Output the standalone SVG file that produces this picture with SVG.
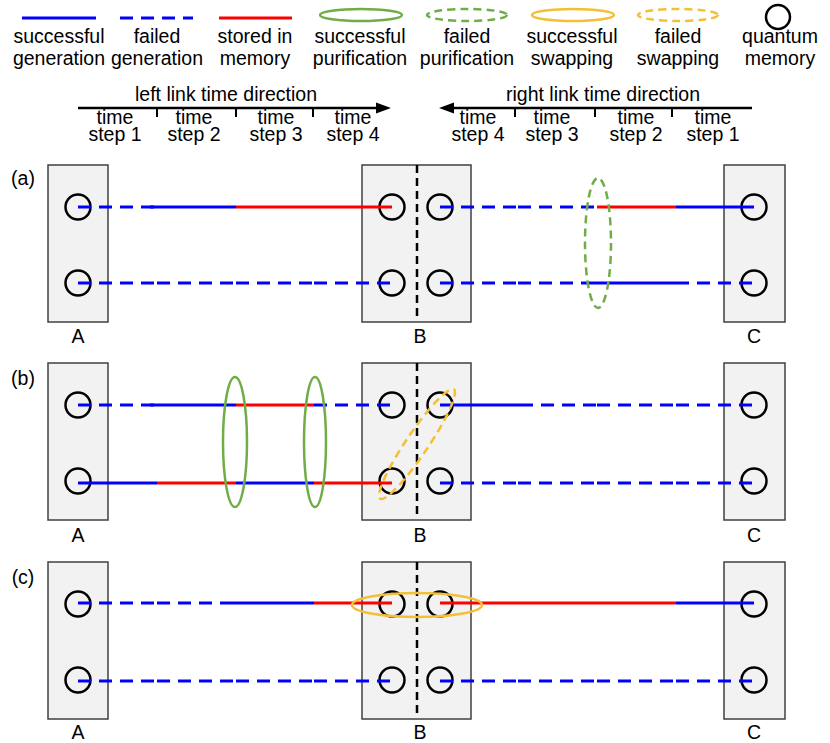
<svg xmlns="http://www.w3.org/2000/svg" width="830" height="743" viewBox="0 0 830 743">
<defs>
<style>
text{font-family:"Liberation Sans",Arial,sans-serif;font-size:19.5px;fill:#000;text-anchor:middle}
.box{fill:#F2F2F2;stroke:#404040;stroke-width:1.5}
.mem{fill:none;stroke:#000;stroke-width:2.5}
.div{stroke:#000;stroke-width:2.5;stroke-dasharray:8 5}
.s{stroke:#0000FF;stroke-width:3}
.d{stroke:#0000FF;stroke-width:3;stroke-dasharray:13 8}
.r{stroke:#FF0000;stroke-width:3}
.gp{fill:none;stroke:#70AD47;stroke-width:2.5}
.gf{fill:none;stroke:#70AD47;stroke-width:2.5;stroke-dasharray:8 5}
.ys{fill:none;stroke:#F4BE35;stroke-width:2.5}
.yf{fill:none;stroke:#F4BE35;stroke-width:2.5;stroke-dasharray:8 5}
.ax{stroke:#000;stroke-width:2.5}
.tk{stroke:#000;stroke-width:2}
</style>
<g id="nodeA"><rect class="box" x="48" y="0" width="60" height="157"/><circle class="mem" cx="78" cy="42" r="12.5"/><circle class="mem" cx="78" cy="118" r="12.5"/></g>
<g id="nodeB"><rect class="box" x="362" y="0" width="109" height="157"/><line class="div" x1="417" y1="0" x2="417" y2="152"/><circle class="mem" cx="392" cy="42" r="12.5"/><circle class="mem" cx="440" cy="42" r="12.5"/><circle class="mem" cx="392" cy="118" r="12.5"/><circle class="mem" cx="440" cy="118" r="12.5"/></g>
<g id="nodeC"><rect class="box" x="724" y="0" width="61" height="157"/><circle class="mem" cx="754" cy="42" r="12.5"/><circle class="mem" cx="754" cy="118" r="12.5"/></g>
</defs>

<g id="legend">
<line class="s" x1="22" y1="18" x2="96" y2="18"/>
<line class="d" x1="120" y1="18" x2="193" y2="18"/>
<line class="r" x1="219" y1="18" x2="292" y2="18"/>
<ellipse class="gp" cx="361" cy="15" rx="41" ry="6"/>
<ellipse class="gf" cx="467" cy="15" rx="40" ry="6"/>
<ellipse class="ys" cx="573" cy="15" rx="41" ry="6"/>
<ellipse class="yf" cx="678" cy="15" rx="40" ry="6"/>
<circle class="mem" cx="778" cy="17" r="12"/>
<text x="59" y="43">successful</text><text x="59" y="65">generation</text>
<text x="157" y="43">failed</text><text x="157" y="65">generation</text>
<text x="255" y="43">stored in</text><text x="255" y="65">memory</text>
<text x="360" y="43">successful</text><text x="360" y="65">purification</text>
<text x="467" y="43">failed</text><text x="467" y="65">purification</text>
<text x="572" y="43">successful</text><text x="572" y="65">swapping</text>
<text x="678" y="43">failed</text><text x="678" y="65">swapping</text>
<text x="780" y="43">quantum</text><text x="780" y="65">memory</text>
</g>

<g id="time-axes">
<text x="226" y="101">left link time direction</text>
<line class="ax" x1="78" y1="108" x2="378" y2="108"/>
<polygon points="391,108 376,102.5 376,113.5" fill="#000"/>
<line class="tk" x1="157" y1="108" x2="157" y2="117"/>
<line class="tk" x1="236" y1="108" x2="236" y2="117"/>
<line class="tk" x1="313" y1="108" x2="313" y2="117"/>
<text x="115" y="124">time</text><text x="115" y="141">step 1</text>
<text x="194" y="124">time</text><text x="194" y="141">step 2</text>
<text x="276" y="124">time</text><text x="276" y="141">step 3</text>
<text x="353" y="124">time</text><text x="353" y="141">step 4</text>
<text x="603" y="101">right link time direction</text>
<line class="ax" x1="752" y1="108" x2="452" y2="108"/>
<polygon points="439,108 454,102.5 454,113.5" fill="#000"/>
<line class="tk" x1="515" y1="108" x2="515" y2="117"/>
<line class="tk" x1="595" y1="108" x2="595" y2="117"/>
<line class="tk" x1="672" y1="108" x2="672" y2="117"/>
<text x="478" y="124">time</text><text x="478" y="141">step 4</text>
<text x="552" y="124">time</text><text x="552" y="141">step 3</text>
<text x="636" y="124">time</text><text x="636" y="141">step 2</text>
<text x="713" y="124">time</text><text x="713" y="141">step 1</text>
</g>

<g id="panel-a" transform="translate(0,165)">
<text x="23" y="20">(a)</text>
<use href="#nodeA"/><use href="#nodeB"/><use href="#nodeC"/>
<text x="78" y="178">A</text><text x="420" y="178">B</text><text x="754" y="178">C</text>
<g id="connectors-a">
<line class="d" x1="78" y1="42" x2="157" y2="42"/><line class="s" x1="150" y1="42" x2="236" y2="42"/><line class="r" x1="236" y1="42" x2="392" y2="42"/>
<line class="d" x1="78" y1="118" x2="157" y2="118"/><line class="d" x1="157" y1="118" x2="236" y2="118"/><line class="d" x1="236" y1="118" x2="314" y2="118"/><line class="d" x1="314" y1="118" x2="392" y2="118"/>
<line class="d" x1="440" y1="42" x2="518" y2="42"/><line class="d" x1="518" y1="42" x2="597" y2="42"/><line class="r" x1="597" y1="42" x2="676" y2="42"/><line class="s" x1="676" y1="42" x2="754" y2="42"/>
<line class="d" x1="440" y1="118" x2="518" y2="118"/><line class="d" x1="518" y1="118" x2="590" y2="118"/><line class="s" x1="590" y1="118" x2="676" y2="118"/><line class="d" x1="676" y1="118" x2="754" y2="118"/>
<ellipse class="gf" cx="598" cy="78" rx="13" ry="65"/>
</g>
</g>

<g id="panel-b" transform="translate(0,363)">
<text x="23" y="22">(b)</text>
<use href="#nodeA"/><use href="#nodeB"/><use href="#nodeC"/>
<text x="78" y="179">A</text><text x="420" y="179">B</text><text x="754" y="179">C</text>
<g id="connectors-b">
<line class="d" x1="78" y1="42" x2="157" y2="42"/><line class="s" x1="150" y1="42" x2="236" y2="42"/><line class="r" x1="236" y1="42" x2="314" y2="42"/><line class="d" x1="314" y1="42" x2="392" y2="42"/>
<line class="s" x1="78" y1="120" x2="157" y2="120"/><line class="r" x1="157" y1="120" x2="236" y2="120"/><line class="s" x1="236" y1="120" x2="314" y2="120"/><line class="r" x1="314" y1="120" x2="392" y2="120"/>
<line class="s" x1="440" y1="42" x2="520" y2="42"/><line class="d" x1="520" y1="42" x2="597" y2="42"/><line class="d" x1="597" y1="42" x2="676" y2="42"/><line class="d" x1="676" y1="42" x2="754" y2="42"/>
<line class="d" x1="440" y1="120" x2="518" y2="120"/><line class="d" x1="518" y1="120" x2="597" y2="120"/><line class="d" x1="597" y1="120" x2="676" y2="120"/><line class="d" x1="676" y1="120" x2="754" y2="120"/>
<ellipse class="gp" cx="235" cy="79" rx="12" ry="65"/>
<ellipse class="gp" cx="315" cy="79" rx="11" ry="65"/>
<ellipse class="yf" cx="417" cy="81" rx="66" ry="11" transform="rotate(-56 417 81)"/>
</g>
</g>

<g id="panel-c" transform="translate(0,562)">
<text x="23" y="22">(c)</text>
<use href="#nodeA"/><use href="#nodeB"/><use href="#nodeC"/>
<text x="78" y="177">A</text><text x="420" y="177">B</text><text x="754" y="177">C</text>
<g id="connectors-c">
<line class="d" x1="78" y1="41" x2="157" y2="41"/><line class="d" x1="157" y1="41" x2="228" y2="41"/><line class="s" x1="228" y1="41" x2="314" y2="41"/><line class="r" x1="314" y1="41" x2="392" y2="41"/>
<line class="d" x1="78" y1="119" x2="157" y2="119"/><line class="d" x1="157" y1="119" x2="236" y2="119"/><line class="d" x1="236" y1="119" x2="314" y2="119"/><line class="d" x1="314" y1="119" x2="392" y2="119"/>
<line class="r" x1="440" y1="41" x2="676" y2="41"/><line class="s" x1="676" y1="41" x2="754" y2="41"/>
<line class="d" x1="440" y1="119" x2="518" y2="119"/><line class="d" x1="518" y1="119" x2="597" y2="119"/><line class="d" x1="597" y1="119" x2="676" y2="119"/><line class="d" x1="676" y1="119" x2="754" y2="119"/>
<ellipse class="ys" cx="417" cy="43" rx="65" ry="12"/>
</g>
</g>
</svg>
